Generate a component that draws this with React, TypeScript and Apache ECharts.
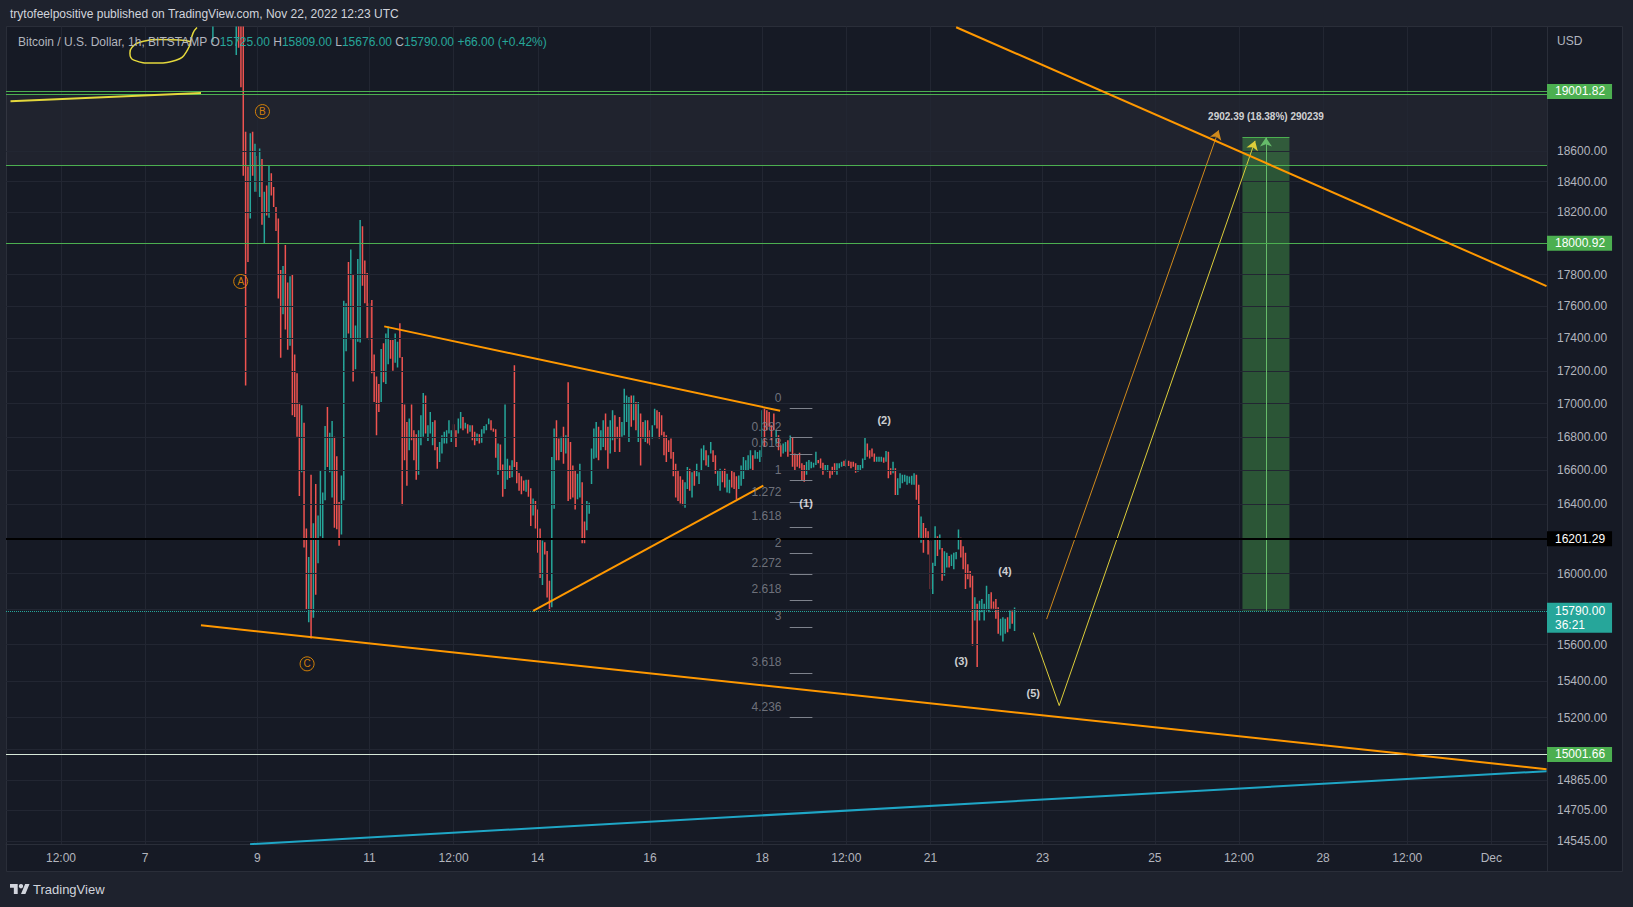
import React, { useEffect, useRef } from "react";
import * as echarts from "echarts";

const FONT = '"Liberation Sans", Arial, sans-serif';
const ln = Math.log;

// x values are hours counted from 2022-11-01 00:00 UTC; candles are 1h, [open, high, low, close]
const X_MIN = 84.48;
const X_MAX = 743.8;
const PRICE_MIN = 14530;
const PRICE_MAX = 19447;
const FIRST_HOUR = 172; // Nov 8 04:00

const nov08 = [
  [19700, 20100, 19600, 19950], [19500, 19900, 19340, 19800], [19800, 19950, 19550, 19600], [19600, 19750, 19500, 19550],
  [19550, 19800, 19500, 19700], [19700, 19780, 19520, 19560], [19560, 19650, 19480, 19500], [19500, 19720, 19460, 19650],
  [19650, 19700, 19480, 19520], [19520, 19680, 19470, 19600], [19600, 19650, 19460, 19480], [19300, 19700, 19250, 19600],
  [19650, 19750, 19300, 19450], [19450, 19600, 19030, 19080], [19500, 19620, 18440, 18500], [18500, 18730, 17110, 18300],
  [18350, 18500, 17880, 18000], [18200, 18720, 18160, 18650], [18700, 18730, 18440, 18480], [18450, 18650, 18335, 18600],
];
const nov09 = [
  [18560, 18570, 18335, 18380], [18380, 18620, 18300, 18550], [18540, 18550, 18120, 18200], [18050, 18335, 18000, 18300],
  [18360, 18375, 18180, 18220], [18200, 18505, 18165, 18450], [18440, 18455, 18310, 18330], [18350, 18365, 18235, 18260],
  [18220, 18235, 18080, 18100], [18120, 18160, 17650, 17700], [17700, 17830, 17280, 17350], [17560, 17855, 17550, 17800],
  [17950, 17990, 17455, 17500], [17700, 17750, 17330, 17380], [17380, 17790, 17355, 17750], [17780, 17800, 16930, 17000],
  [17250, 17300, 16920, 16980], [17150, 17185, 16800, 16850], [16980, 17005, 16450, 16500], [16600, 16990, 16590, 16950],
  [16850, 16885, 16150, 16200], [16240, 16260, 15800, 15850], [15740, 16095, 15725, 16060], [16500, 16575, 15635, 15700],
];
const nov10 = [
  [15760, 16290, 15750, 16250], [16480, 16520, 15880, 15920], [16080, 16335, 16060, 16300], [16230, 16600, 16215, 16560],
  [16220, 16470, 16200, 16440], [16440, 16865, 16425, 16830], [16960, 16980, 16620, 16650], [16600, 16825, 16590, 16800],
  [16460, 16895, 16440, 16870], [16780, 16800, 16265, 16300], [16660, 16685, 16255, 16280], [16400, 16415, 16160, 16190],
  [16240, 16570, 16225, 16540], [16440, 17635, 16425, 17600], [17330, 17620, 17320, 17600], [17860, 17880, 17430, 17460],
  [17410, 17960, 17395, 17930], [17780, 17800, 17135, 17170], [17220, 17480, 17210, 17460], [17390, 17900, 17380, 17870],
  [17390, 18150, 17375, 18120], [18090, 18110, 17730, 17760], [17870, 17890, 17620, 17640], [17790, 17810, 17400, 17430],
];
const nov11 = [
  [17600, 17620, 17390, 17410], [17620, 17640, 17185, 17200], [17280, 17300, 17010, 17030], [17150, 17165, 16810, 16830],
  [17100, 17120, 16950, 16970], [17020, 17335, 17010, 17310], [17350, 17370, 17130, 17150], [17130, 17430, 17120, 17410],
  [17250, 17475, 17240, 17450], [17380, 17390, 17275, 17290], [17380, 17390, 17200, 17220], [17260, 17430, 17250, 17410],
  [17230, 17380, 17220, 17360], [17480, 17495, 17280, 17300], [17280, 17285, 16395, 16420], [16980, 16995, 16660, 16680],
  [16870, 16890, 16510, 16530], [16730, 16910, 16720, 16890], [16980, 16995, 16780, 16800], [16830, 16840, 16660, 16680],
  [16800, 16815, 16545, 16560], [16590, 16840, 16575, 16820], [16760, 16930, 16750, 16910], [16810, 17065, 16800, 17040],
];
const nov12 = [
  [17040, 17050, 16820, 16840], [16780, 16870, 16775, 16860], [16830, 16950, 16820, 16940], [16760, 16890, 16750, 16870],
  [16890, 16900, 16720, 16740], [16730, 16740, 16610, 16620], [16660, 16770, 16650, 16760], [16710, 16810, 16700, 16800],
  [16770, 16830, 16760, 16820], [16770, 16840, 16760, 16830], [16830, 16900, 16820, 16890], [16780, 16840, 16770, 16830],
  [16870, 16875, 16795, 16800], [16830, 16840, 16740, 16750], [16830, 16910, 16820, 16900], [16860, 16950, 16850, 16940],
  [16910, 16920, 16840, 16850], [16855, 16885, 16850, 16880], [16870, 16875, 16820, 16825], [16835, 16870, 16830, 16865],
  [16860, 16870, 16780, 16790], [16820, 16830, 16750, 16760], [16780, 16820, 16775, 16815], [16810, 16815, 16760, 16765],
];
const nov13 = [
  [16770, 16845, 16765, 16840], [16825, 16865, 16820, 16860], [16845, 16875, 16840, 16870], [16880, 16910, 16875, 16905],
  [16895, 16900, 16840, 16845], [16848, 16850, 16830, 16835], [16840, 16845, 16675, 16690], [16580, 16760, 16575, 16750],
  [16750, 16755, 16600, 16610], [16630, 16635, 16445, 16460], [16500, 16995, 16490, 16600], [16550, 16670, 16545, 16660],
  [16625, 16630, 16555, 16560], [16565, 16660, 16560, 16655], [16650, 17235, 16620, 16630], [16645, 16650, 16525, 16530],
  [16580, 16585, 16480, 16490], [16560, 16565, 16460, 16470], [16535, 16540, 16480, 16485], [16480, 16545, 16475, 16540],
  [16540, 16545, 16445, 16450], [16490, 16495, 16275, 16290], [16340, 16435, 16335, 16430], [16415, 16420, 16260, 16270],
];
const nov14 = [
  [16365, 16370, 16120, 16130], [16255, 16260, 15975, 15990], [15940, 16190, 15935, 16180], [16175, 16180, 16110, 16115],
  [16125, 16130, 15865, 15880], [15900, 15960, 15790, 15830], [15830, 16680, 15810, 16600], [16380, 16850, 16375, 16820],
  [16890, 16900, 16660, 16680], [16780, 16790, 16660, 16670], [16715, 16800, 16710, 16790], [16850, 16860, 16640, 16650],
  [16705, 16810, 16700, 16800], [16800, 17130, 16420, 16450], [16760, 16770, 16430, 16440], [16620, 16630, 16440, 16450],
  [16590, 16600, 16370, 16380], [16435, 16580, 16430, 16570], [16445, 16640, 16440, 16630], [16520, 16530, 16175, 16190],
  [16290, 16300, 16175, 16185], [16255, 16420, 16250, 16410], [16350, 16410, 16345, 16400], [16525, 16730, 16520, 16720],
];
const nov15 = [
  [16675, 16850, 16670, 16840], [16680, 16890, 16675, 16880], [16850, 16860, 16660, 16670], [16725, 16840, 16720, 16830],
  [16745, 16900, 16740, 16890], [16930, 16940, 16720, 16730], [16850, 16860, 16610, 16620], [16705, 16900, 16700, 16890],
  [16785, 16960, 16780, 16950], [16920, 16930, 16710, 16720], [16855, 16860, 16790, 16795], [16910, 16920, 16710, 16720],
  [16805, 16890, 16800, 16880], [16815, 17090, 16810, 17000], [16895, 17050, 16890, 17040], [16775, 17040, 16770, 17000],
  [17040, 17050, 16860, 16870], [16905, 17050, 16900, 17040], [17000, 17010, 16840, 16850], [16775, 17010, 16770, 17000],
  [16930, 16940, 16630, 16640], [16880, 16890, 16790, 16800], [16775, 16900, 16770, 16890], [16890, 16900, 16760, 16770],
];
const nov16 = [
  [16830, 16840, 16750, 16760], [16795, 16870, 16790, 16860], [16875, 16970, 16870, 16960], [16950, 16960, 16850, 16860],
  [16940, 16950, 16790, 16800], [16920, 16930, 16810, 16820], [16820, 16830, 16690, 16700], [16800, 16810, 16650, 16660],
  [16770, 16780, 16710, 16720], [16780, 16790, 16670, 16680], [16700, 16710, 16565, 16575], [16630, 16640, 16440, 16450],
  [16590, 16600, 16420, 16430], [16555, 16565, 16405, 16415], [16535, 16545, 16395, 16405], [16385, 16530, 16380, 16520],
  [16495, 16620, 16490, 16610], [16600, 16610, 16480, 16490], [16445, 16590, 16440, 16580], [16590, 16600, 16510, 16520],
  [16570, 16640, 16565, 16630], [16525, 16590, 16520, 16580], [16605, 16730, 16600, 16720], [16665, 16750, 16660, 16740],
];
const nov17 = [
  [16710, 16720, 16630, 16640], [16625, 16690, 16620, 16680], [16705, 16770, 16700, 16760], [16710, 16720, 16650, 16660],
  [16680, 16690, 16580, 16590], [16515, 16600, 16510, 16590], [16485, 16610, 16480, 16600], [16590, 16600, 16530, 16540],
  [16600, 16610, 16500, 16510], [16475, 16580, 16470, 16570], [16470, 16545, 16465, 16540], [16590, 16600, 16500, 16510],
  [16580, 16590, 16490, 16500], [16555, 16565, 16430, 16440], [16495, 16570, 16490, 16560], [16515, 16630, 16510, 16620],
  [16555, 16680, 16550, 16670], [16605, 16660, 16600, 16655], [16605, 16690, 16600, 16680], [16615, 16720, 16610, 16710],
  [16680, 16690, 16600, 16610], [16675, 16720, 16670, 16715], [16675, 16710, 16670, 16705], [16655, 16720, 16650, 16715],
];
const nov18 = [
  [16685, 16960, 16680, 16950], [16960, 16970, 16740, 16750], [16950, 16960, 16840, 16850], [16940, 16950, 16860, 16870],
  [16860, 16870, 16780, 16790], [16930, 16940, 16840, 16850], [16765, 16840, 16760, 16830], [16800, 16810, 16720, 16730],
  [16745, 16750, 16681, 16690], [16705, 16760, 16701, 16755], [16715, 16769, 16711, 16765], [16775, 16779, 16681, 16690],
  [16715, 16808, 16711, 16800], [16790, 16798, 16622, 16630], [16695, 16701, 16603, 16610], [16685, 16691, 16622, 16630],
  [16700, 16705, 16613, 16620], [16635, 16642, 16540, 16550], [16625, 16632, 16534, 16545], [16578, 16652, 16574, 16645],
  [16607, 16662, 16603, 16655], [16617, 16652, 16613, 16648], [16620, 16646, 16618, 16642], [16636, 16711, 16632, 16705],
];
const nov19 = [
  [16660, 16662, 16642, 16645], [16668, 16671, 16613, 16618], [16642, 16646, 16574, 16580], [16606, 16632, 16603, 16628],
  [16597, 16632, 16593, 16628], [16600, 16603, 16554, 16558], [16618, 16622, 16574, 16578], [16638, 16642, 16593, 16598],
  [16578, 16642, 16574, 16638], [16616, 16642, 16613, 16638], [16625, 16652, 16622, 16648], [16655, 16658, 16626, 16630],
  [16626, 16666, 16622, 16662], [16655, 16658, 16626, 16630], [16648, 16652, 16613, 16617], [16648, 16652, 16622, 16626],
  [16638, 16642, 16587, 16592], [16597, 16632, 16593, 16628], [16606, 16632, 16603, 16628], [16617, 16671, 16613, 16666],
  [16666, 16798, 16662, 16760], [16755, 16760, 16681, 16690], [16715, 16720, 16671, 16676], [16725, 16731, 16681, 16686],
];
const nov20 = [
  [16697, 16701, 16652, 16657], [16655, 16681, 16652, 16677], [16655, 16681, 16652, 16677], [16656, 16681, 16652, 16678],
  [16673, 16677, 16646, 16650], [16656, 16716, 16652, 16710], [16705, 16711, 16554, 16565], [16609, 16613, 16574, 16578],
  [16588, 16652, 16584, 16648], [16608, 16613, 16456, 16465], [16460, 16554, 16456, 16548], [16500, 16584, 16495, 16578],
  [16530, 16574, 16525, 16570], [16538, 16574, 16534, 16570], [16520, 16568, 16515, 16562], [16530, 16564, 16525, 16560],
  [16520, 16568, 16515, 16562], [16520, 16584, 16515, 16578], [16570, 16574, 16427, 16435], [16510, 16515, 16206, 16220],
  [16185, 16330, 16177, 16320], [16285, 16292, 16120, 16130], [16258, 16263, 16206, 16212], [16238, 16244, 16110, 16120],
];
const nov21 = [
  [16180, 16187, 15913, 15925], [15893, 16063, 15885, 16055], [16050, 16273, 16044, 16265], [16210, 16215, 16101, 16108],
  [16143, 16225, 16139, 16220], [16142, 16148, 15960, 15970], [15995, 16129, 15988, 16122], [16040, 16120, 16035, 16115],
  [16097, 16101, 16035, 16040], [16048, 16110, 16044, 16105], [16030, 16120, 16025, 16115], [16085, 16124, 16082, 16120],
  [16145, 16254, 16139, 16245], [16200, 16206, 16092, 16098], [16152, 16158, 16025, 16032], [16115, 16120, 15913, 15922],
  [16050, 16054, 15969, 15975], [16010, 16016, 15922, 15930], [15982, 15988, 15596, 15610], [15740, 15866, 15735, 15860],
  [15822, 15829, 15477, 15500], [15740, 15847, 15735, 15840], [15786, 15857, 15782, 15850], [15740, 15829, 15735, 15822],
];
const nov22 = [
  [15795, 15931, 15791, 15920], [15786, 15885, 15782, 15878], [15890, 15894, 15801, 15808], [15838, 15842, 15801, 15805],
  [15852, 15857, 15745, 15752], [15805, 15810, 15661, 15668], [15656, 15745, 15652, 15740], [15622, 15754, 15618, 15748],
  [15665, 15745, 15661, 15740], [15750, 15754, 15670, 15676], [15693, 15791, 15689, 15785], [15786, 15791, 15717, 15725],
  [15725, 15809, 15676, 15790],
];
const days = [nov08, nov09, nov10, nov11, nov12, nov13, nov14, nov15, nov16, nov17, nov18, nov19, nov20, nov21, nov22];

// axis ticks
const priceTicks = [18600, 18400, 18200, 17800, 17600, 17400, 17200, 17000, 16800, 16600, 16400, 16000, 15600, 15400, 15200, 14865, 14705, 14545];
const hiddenGridPrices = [18000, 16200, 15800, 15030];
const timeTickHours = [108, 144, 192, 240, 276, 312, 360, 408, 444, 480, 528, 576, 612, 648, 684, 720];
const timeTickLabels = ["12:00", "7", "9", "11", "12:00", "14", "16", "18", "12:00", "21", "23", "25", "12:00", "28", "12:00", "Dec"];

// horizontal drawings
const hLinePrices = [19001.82, 18985, 18506, 18000.92, 16201.29, 15790, 15001.66];
const hLineColors = ["#4caf50", "#4caf50", "#4caf50", "#4caf50", "#000000", "#26a69a", "#d7e8d8"];
const hLineWidths = [1, 1, 1, 1, 2, 1, 1];
const hLineTypes = ["solid", "solid", "solid", "solid", "solid", "dotted", "solid"];
const hLineBadges = ["19001.82", "", "", "18000.92", "16201.29", "15790.00\n36:21", "15001.66"];
const hLineBadgeColors = ["#4caf50", "", "", "#4caf50", "#000000", "#26a69a", "#4caf50"];
const BAND_TOP = 18985;
const BAND_BOTTOM = 18506;

// trend lines [hour, price]
const wedgeUpper = [[491, 19442], [743.6, 17728]];
const wedgeLower = [[167.9, 15708], [743.6, 14923]];
const triangleUpper = [[246.3, 17475], [415.7, 16957]];
const triangleLower = [[310.0, 15790], [408.5, 16510]];
const cyanLine = [[188.9, 14529], [743.6, 14912]];
const yellowLine = [[86.4, 18936], [167.9, 18992]];
const doodle = [
  [166.2, 19440], [164.5, 19401], [162.1, 19284], [157.2, 19215], [147.4, 19195], [139.2, 19215],
  [137.5, 19263], [138.4, 19304], [142.5, 19341], [150.7, 19357], [158.9, 19353], [163.6, 19341],
];
const yellowProjection = [[524, 15667], [535.1, 15265], [618.9, 18670]];
const orangeProjection = [[529.7, 15743], [603.3, 18740]];

// long position
const ENTRY = 15790;
const TARGET = 18692.39;
const BOX_FROM = 613.5;
const BOX_TO = 633.6;
const BOX_MID = 623.55;
const BOX_TEXT = "2902.39 (18.38%) 290239";

// fib extension
const fibLevels = ["0", "0.382", "0.618", "1", "1.272", "1.618", "2", "2.272", "2.618", "3", "3.618", "4.236"];
const fibPrices = [16970, 16795, 16695, 16540, 16410, 16270, 16115, 15998, 15848, 15697, 15443, 15200];
const FIB_LABEL_HOUR = 416.5;
const FIB_LINE_FROM = 419.8;
const FIB_LINE_TO = 429.5;

// wave labels
const waveTexts = ["(1)", "(2)", "(3)", "(4)", "(5)"];
const waveHours = [426.8, 460.2, 493.2, 511.9, 524.0];
const wavePrices = [16406, 16901, 15511, 16015, 15333];
const abcTexts = ["A", "B", "C"];
const abcHours = [184.9, 194.2, 213.3];
const abcPrices = [17757, 18866, 15494];

echarts.graphic.registerShape(
  "tvLogo",
  echarts.graphic.extendPath("M14 22H7V11H0V4h14v18zM28 22h-8l7.5-18h8L28 22z", {})
);

const P = (h: number, p: number) => [h, ln(p)];

function buildOption() {
  const candleData: number[][] = [];
  let hour = FIRST_HOUR;
  days.forEach((d) =>
    d.forEach((c) => {
      candleData.push([hour, ln(c[0]), ln(c[3]), ln(c[2]), ln(c[1])]);
      hour += 1;
    })
  );

  const gridPrices = priceTicks.concat(hiddenGridPrices);
  const lineSeries = (pts: number[][], color: string, width: number, z = 5, smooth: any = false) => ({
    type: "line",
    data: pts.map((p) => P(p[0], p[1])),
    showSymbol: false,
    symbol: "none",
    smooth,
    lineStyle: { color, width },
    silent: true,
    clip: true,
    z,
  });

  const seg = (a: number[], b: number[], color: string, width: number, endSymbol: string, type = "solid") => [
    { coord: P(a[0], a[1]), symbol: "none", lineStyle: { color, width, type } },
    { coord: P(b[0], b[1]), symbol: endSymbol, symbolSize: 9 },
  ];
  const yMinLn = ln(PRICE_MIN);
  const yMaxLn = ln(PRICE_MAX);

  const series: any[] = [
    {
      type: "line",
      data: [],
      silent: true,
      z: 1,
      markLine: {
        silent: true,
        symbol: "none",
        precision: 10,
        animation: false,
        label: { show: false },
        lineStyle: { color: "#222632", width: 1, type: "solid" },
        data: [
          ...gridPrices.map((p) => [{ coord: [X_MIN, ln(p)] }, { coord: [X_MAX, ln(p)] }]),
          ...timeTickHours.map((h) => [{ coord: [h, yMinLn] }, { coord: [h, yMaxLn] }]),
        ],
      },
    },
    {
      type: "line",
      data: [],
      silent: true,
      z: 2,
      markArea: {
        silent: true,
        label: { show: false },
        itemStyle: { color: "rgba(134,137,147,0.09)" },
        data: [[{ coord: [X_MIN, ln(BAND_TOP)] }, { coord: [X_MAX, ln(BAND_BOTTOM)] }]],
      },
    },
    {
      type: "candlestick",
      data: candleData,
      encode: { x: 0, y: [1, 2, 3, 4] },
      large: true,
      largeThreshold: 50,
      barWidth: 1,
      clip: true,
      silent: true,
      z: 3,
      itemStyle: {
        color: "#26a69a",
        color0: "#ef5350",
        borderColor: "#26a69a",
        borderColor0: "#ef5350",
        borderWidth: 1.5,
      },
    },
    {
      type: "line",
      data: [],
      silent: true,
      z: 4,
      markArea: {
        silent: true,
        label: { show: false },
        itemStyle: { color: "rgba(76,175,80,0.4)" },
        data: [[{ coord: P(BOX_FROM, TARGET) }, { coord: P(BOX_TO, ENTRY) }]],
      },
      markLine: {
        silent: true,
        symbol: "none",
        precision: 10,
        label: { show: false },
        data: [
          seg([BOX_FROM, TARGET], [BOX_TO, TARGET], "#4caf50", 1, "none"),
          seg([BOX_MID, ENTRY], [BOX_MID, TARGET], "#66bb6a", 1, "arrow"),
        ],
      },
    },
    lineSeries(wedgeUpper, "#ff9800", 2),
    lineSeries(wedgeLower, "#ff9800", 2),
    lineSeries(triangleUpper, "#ff9800", 2),
    lineSeries(triangleLower, "#ff9800", 2),
    lineSeries(cyanLine, "#1fa6c6", 2),
    lineSeries(yellowLine, "#e4d83c", 2),
    lineSeries(doodle, "#e4d83c", 1.5, 5, 0.5),
    {
      type: "line",
      data: [],
      silent: true,
      z: 6,
      markLine: {
        silent: true,
        symbol: "none",
        precision: 10,
        label: { show: false },
        data: [
          seg(yellowProjection[0], yellowProjection[1], "#dccd3a", 1, "none"),
          seg(yellowProjection[1], yellowProjection[2], "#dccd3a", 1, "arrow"),
          seg(orangeProjection[0], orangeProjection[1], "#d08a1c", 1, "arrow"),
          ...fibPrices.map((p) => seg([FIB_LINE_FROM, p], [FIB_LINE_TO, p], "#7e828c", 1, "none")),
        ],
      },
    },
    {
      type: "line",
      data: [],
      silent: true,
      z: 7,
      clip: false,
      markLine: {
        silent: true,
        symbol: "none",
        precision: 10,
        data: hLinePrices.map((p, i) => {
          const two = hLineBadges[i].indexOf("\n") >= 0;
          return [
            {
              coord: [X_MIN, ln(p)],
              lineStyle: { color: hLineColors[i], width: hLineWidths[i], type: hLineTypes[i] },
              label: hLineBadges[i]
                ? {
                    show: true,
                    position: "end",
                    distance: 0,
                    formatter: hLineBadges[i],
                    color: "#ffffff",
                    backgroundColor: hLineBadgeColors[i],
                    padding: [1, 7, 1, 8],
                    fontSize: 12,
                    fontFamily: FONT,
                    lineHeight: two ? 14 : 13,
                    offset: two ? [0, 7] : [0, 0],
                  }
                : { show: false },
            },
            { coord: [X_MAX, ln(p)] },
          ];
        }),
      },
    },
    {
      type: "scatter",
      silent: true,
      z: 8,
      clip: false,
      symbolSize: 1,
      itemStyle: { color: "rgba(0,0,0,0)" },
      label: {
        show: true,
        position: "left",
        distance: 0,
        offset: [0, -11],
        color: "#868993",
        fontSize: 12,
        fontFamily: FONT,
        formatter: (d: any) => fibLevels[d.dataIndex],
      },
      data: fibPrices.map((p) => P(FIB_LABEL_HOUR, p)),
    },
    {
      type: "scatter",
      silent: true,
      z: 8,
      clip: false,
      symbolSize: 1,
      itemStyle: { color: "rgba(0,0,0,0)" },
      label: {
        show: true,
        position: "inside",
        color: "#ffffff",
        fontWeight: "bold",
        fontSize: 11,
        fontFamily: FONT,
        formatter: (d: any) => waveTexts[d.dataIndex],
      },
      data: wavePrices.map((p, i) => P(waveHours[i], p)),
    },
    {
      type: "scatter",
      silent: true,
      z: 8,
      clip: false,
      symbol: "circle",
      symbolSize: 14,
      itemStyle: { color: "rgba(0,0,0,0)", borderColor: "#ff9800", borderWidth: 1 },
      label: {
        show: true,
        position: "inside",
        color: "#ff9800",
        fontSize: 10,
        fontFamily: FONT,
        formatter: (d: any) => abcTexts[d.dataIndex],
      },
      data: abcPrices.map((p, i) => P(abcHours[i], p)),
    },
    {
      type: "scatter",
      silent: true,
      z: 8,
      clip: false,
      symbolSize: 1,
      itemStyle: { color: "rgba(0,0,0,0)" },
      label: {
        show: true,
        position: "top",
        distance: 15,
        color: "#ffffff",
        fontWeight: "bold",
        fontSize: 10,
        fontFamily: FONT,
        formatter: BOX_TEXT,
      },
      data: [P(BOX_MID, TARGET)],
    },
  ];

  const axisText = { color: "#b2b5be", fontSize: 12, fontFamily: FONT };

  return {
    animation: false,
    backgroundColor: "#1e222d",
    grid: { left: 6, right: 86, top: 26.5, bottom: 63, containLabel: false, outerBoundsMode: "none" },
    xAxis: {
      type: "value",
      min: X_MIN,
      max: X_MAX,
      axisLine: { show: true, lineStyle: { color: "#2a2e39" } },
      axisTick: { show: false },
      splitLine: { show: false },
      axisLabel: {
        ...axisText,
        margin: 8,
        customValues: timeTickHours,
        formatter: (v: number) => {
          const i = timeTickHours.findIndex((h) => Math.abs(h - v) < 1e-6);
          return i >= 0 ? timeTickLabels[i] : "";
        },
      },
    },
    yAxis: {
      type: "value",
      position: "right",
      min: yMinLn,
      max: yMaxLn,
      axisLine: { show: true, lineStyle: { color: "#2a2e39" } },
      axisTick: { show: false },
      splitLine: { show: false },
      axisLabel: {
        ...axisText,
        margin: 10,
        customValues: priceTicks.map((p) => ln(p)),
        formatter: (v: number) => {
          let best = priceTicks[0];
          priceTicks.forEach((p) => {
            if (Math.abs(ln(p) - v) < Math.abs(ln(best) - v)) best = p;
          });
          return best.toFixed(2);
        },
      },
    },
    graphic: [
      {
        type: "rect",
        z: -10,
        silent: true,
        shape: { x: 6.5, y: 26.5, width: 1616, height: 845 },
        style: { fill: "#161a25", stroke: "#2a2e39", lineWidth: 1 },
      },
      {
        type: "line",
        silent: true,
        z: 10,
        shape: { x1: 1547.5, y1: 844, x2: 1547.5, y2: 871.5 },
        style: { stroke: "#2a2e39", lineWidth: 1 },
      },
      {
        type: "text",
        silent: true,
        z: 10,
        x: 10,
        y: 14,
        style: {
          text: "trytofeelpositive published on TradingView.com, Nov 22, 2022 12:23 UTC",
          fill: "#d1d4dc",
          font: `12px ${FONT}`,
          verticalAlign: "middle",
        },
      },
      {
        type: "text",
        silent: true,
        z: 10,
        x: 18,
        y: 42,
        style: {
          text:
            "{g|Bitcoin / U.S. Dollar, 1h, BITSTAMP} {g|O}{t|15725.00} {g|H}{t|15809.00} {g|L}{t|15676.00} {g|C}{t|15790.00} {t|+66.00 (+0.42%)}",
          font: `12px ${FONT}`,
          fill: "#b2b5be",
          verticalAlign: "middle",
          rich: {
            g: { fill: "#b2b5be", font: `12px ${FONT}` },
            t: { fill: "#26a69a", font: `12px ${FONT}` },
          },
        },
      },
      {
        type: "text",
        silent: true,
        z: 10,
        x: 1557,
        y: 41,
        style: { text: "USD", fill: "#b2b5be", font: `12px ${FONT}`, verticalAlign: "middle" },
      },
      {
        type: "tvLogo",
        silent: true,
        z: 10,
        x: 10,
        y: 881.8,
        scaleX: 0.55,
        scaleY: 0.55,
        style: { fill: "#d1d4dc" },
      },
      {
        type: "circle",
        silent: true,
        z: 10,
        shape: { cx: 21, cy: 886.2, r: 2.2 },
        style: { fill: "#d1d4dc" },
      },
      {
        type: "text",
        silent: true,
        z: 10,
        x: 33,
        y: 889,
        style: { text: "TradingView", fill: "#d1d4dc", font: `13px ${FONT}`, verticalAlign: "middle" },
      },
    ],
    series,
  };
}

export default function App() {
  const ref = useRef<HTMLDivElement>(null);
  useEffect(() => {
    if (!ref.current) return;
    const chart = echarts.init(ref.current, null, { renderer: "svg" });
    chart.setOption(buildOption() as any);
    return () => chart.dispose();
  }, []);
  return <div ref={ref} style={{ position: "fixed", left: 0, top: 0, width: 1633, height: 907 }} />;
}
